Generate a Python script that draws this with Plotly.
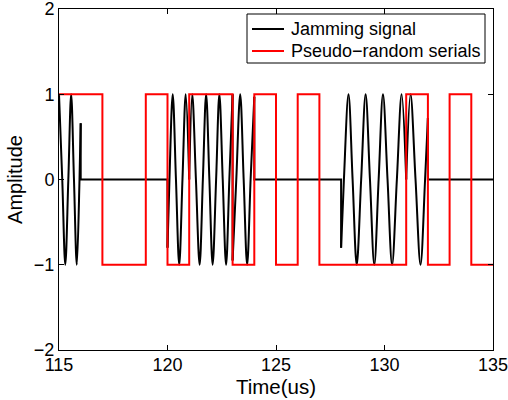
import plotly.graph_objects as go

# Pseudo-random serials (square wave): switching times and levels
red_t = [115, 117, 119, 120, 121, 123, 124, 125, 126, 127, 131, 132, 133, 134, 135]
red_v = [1, -1, 1, -1, 1, -1, 1, -1, 1, -1, 1, -1, 1, -1, -1]

# Jamming signal: oscillating bursts, read as extrema / zero crossings (None = break)
jam_wave_t = [115.00, 115.15, 115.29, 115.43, 115.56, 115.69, 115.82, 115.945, 116.00, None,
              120.00, 120.09, 120.24, 120.39, 120.54, 120.69, 120.84, 121.00, None,
              121.00, 121.14, 121.31, 121.48, 121.63, 121.78, 121.93, 122.08, 122.24,
              122.39, 122.545, 122.70, 122.85, 123.00, None,
              123.00, 123.17, 123.35, 123.51, 123.67, 123.83, 124.00, None,
              128.00, 128.13, 128.34, 128.53, 128.72, 128.925, 129.13, 129.33, 129.53,
              129.73, 129.93, 130.14, 130.35, 130.57, 130.79, 131.00, None,
              131.00, 131.20, 131.43, 131.66, 131.87, 132.00]
jam_wave_a = [1.0, 0, -1, 0, 1, 0, -1, 0, 0.66, None,
              -0.8, 0, 1, 0, -1, 0, 1, 0.0, None,
              0.0, 1, 0, -1, 0, 1, 0, -1, 0,
              1, 0, -1, 0, 1.0, None,
              -0.95, 0, 1, 0, -1, 0, 0.97, None,
              -0.8, 0, 1, 0, -1, 0, 1, 0, -1,
              0, 1, 0, -1, 0, 1, 0.0, None,
              0.0, 1, 0, -1, 0, 0.72]

# Jamming signal: idle (zero) stretches and jumps
jam_flat_t = [116, 116, 120, 120, None, 123, 123, None, 124, 124, 128, 128, None, 132, 132, 135]
jam_flat_a = [0.66, 0, 0, -0.8, None, 1.0, -0.95, None, 0.97, 0, 0, -0.8, None, 0.72, 0, 0]

x_ticks = [115, 120, 125, 130, 135]
y_ticks = [-2, -1, 0, 1, 2]
legend_names = ["Jamming signal", "Pseudo\u2212random serials"]
legend_colors = ["black", "#ff0000"]

FONT = "Liberation Sans, Arial, Helvetica, sans-serif"
W, H = 508, 400
ML, MR, MT, MB = 59, 15, 9, 50
PW, PH = W - ML - MR, H - MT - MB


def px_x(p):
    return (p - ML) / PW


def px_y(p):
    return (H - MB - p) / PH


fig = go.Figure()
fig.add_trace(go.Scatter(x=jam_flat_t, y=jam_flat_a, mode="lines",
                         line=dict(color="black", width=2), name=legend_names[0],
                         legendgroup="jam", showlegend=False, connectgaps=False))
fig.add_trace(go.Scatter(x=jam_wave_t, y=jam_wave_a, mode="lines",
                         line=dict(color="black", width=2, shape="spline", smoothing=1),
                         name=legend_names[0], legendgroup="jam", showlegend=False,
                         connectgaps=False))
fig.add_trace(go.Scatter(x=red_t, y=red_v, mode="lines",
                         line=dict(color="#ff0000", width=2, shape="hv"),
                         name=legend_names[1], showlegend=False))

axis_common = dict(showgrid=False, zeroline=False, showline=True, linecolor="black",
                   linewidth=1, mirror="ticks", ticks="inside", ticklen=5,
                   tickcolor="black", tickwidth=1, ticklabeloverflow="allow",
                   automargin=False,
                   tickfont=dict(family=FONT, size=18, color="black"))

fig.update_xaxes(range=[115, 135], tickvals=x_ticks, ticktext=[str(v) for v in x_ticks],
                 ticklabelstandoff=-2,
                 title=dict(text="Time(us)", font=dict(family=FONT, size=20.5, color="black"),
                            standoff=1),
                 **axis_common)
fig.update_yaxes(range=[-2, 2], tickvals=y_ticks,
                 ticktext=[("\u2212" + str(-v)) if v < 0 else str(v) for v in y_ticks],
                 title=dict(text="Amplitude", font=dict(family=FONT, size=20, color="black"),
                            standoff=5),
                 **axis_common)

# legend box drawn in paper coordinates
box_l, box_r, box_t, box_b = 247, 485, 14, 63
row_y = [29, 51]
shapes = [dict(type="rect", xref="paper", yref="paper",
               x0=px_x(box_l), x1=px_x(box_r), y0=px_y(box_b), y1=px_y(box_t),
               line=dict(color="black", width=1), fillcolor="white", layer="above")]
annotations = []
for name, col, ry in zip(legend_names, legend_colors, row_y):
    shapes.append(dict(type="line", xref="paper", yref="paper",
                       x0=px_x(252), x1=px_x(284), y0=px_y(ry), y1=px_y(ry),
                       line=dict(color=col, width=2), layer="above"))
    annotations.append(dict(text=name, xref="paper", yref="paper", x=px_x(289), y=px_y(ry),
                            xanchor="left", yanchor="middle", showarrow=False,
                            font=dict(family=FONT, size=18, color="black")))

fig.update_layout(
    width=W, height=H,
    margin=dict(l=ML, r=MR, t=MT, b=MB),
    paper_bgcolor="white", plot_bgcolor="white",
    font=dict(family=FONT, size=18, color="black"),
    shapes=shapes, annotations=annotations,
    showlegend=False,
)

fig.write_html("out.html")
